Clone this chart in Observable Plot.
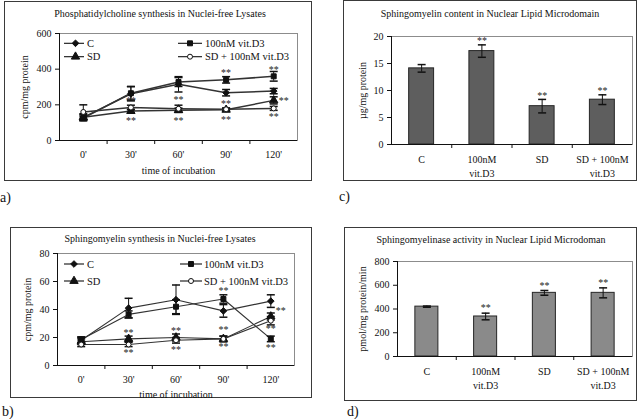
<!DOCTYPE html>
<html><head><meta charset="utf-8">
<script src="https://cdn.jsdelivr.net/npm/d3@7"></script>
<script src="https://cdn.jsdelivr.net/npm/@observablehq/plot@0.6"></script>
<style>
html,body{margin:0;padding:0;background:#fff;}
#root{position:relative;width:640px;height:419px;overflow:hidden;font-family:"Liberation Serif","Times New Roman",serif;color:#111;}
.box{position:absolute;border:1px solid #3a3a3a;box-sizing:border-box;}
.panel{position:absolute;}
.panel svg{display:block;overflow:visible;}
.panel svg, .panel svg text, #overlay text{font-family:"Liberation Serif","Times New Roman",serif !important;}
.ttl{position:absolute;font-size:10px;white-space:nowrap;transform:translate(-50%,-50%);}
.lett{position:absolute;font-size:14px;transform:translate(0,-50%);}
#overlay{position:absolute;left:0;top:0;pointer-events:none;}
</style></head><body><div id="root"></div>
<script>
// ---------- data ----------
const times = ["0'", "30'", "60'", "90'", "120'"];
const groups = ["C", "100nM vit.D3", "SD", "SD + 100nM vit.D3"];

// a) Phosphatidylcholine synthesis (cpm/mg protein)
const pcC        = [130, 262, 315, 268, 277];
const pcCErr     = [20, 40, 43, 18, 15];
const pcVit      = [125, 265, 328, 340, 360];
const pcVitErr   = [12, 38, 25, 18, 27];
const pcSD       = [130, 165, 170, 172, 225];
const pcSDErr    = [15, 10, 12, 8, 20];
const pcSDVit    = [160, 185, 178, 175, 180];
const pcSDVitErr = [40, 13, 20, 8, 11];
const pcStars = [
  {time:"30'", value:235}, {time:"30'", value:123},
  {time:"60'", value:241}, {time:"60'", value:123},
  {time:"90'", value:392}, {time:"90'", value:219}, {time:"90'", value:129},
  {time:"120'", value:409}, {time:"120'", value:143}
];
const pcStarsSide = [{time:"120'", value:234}];

// b) Sphingomyelin synthesis (cpm/mg protein)
const smC        = [18, 41, 47, 39, 46];
const smCErr     = [2, 7, 10.5, 4.5, 4.5];
const smVit      = [18.5, 36.5, 42, 47.5, 19];
const smVitErr   = [2, 2.5, 5, 3, 2];
const smSD       = [17, 19, 20, 19, 35];
const smSDErr    = [2, 2, 2.5, 2, 2.5];
const smSDVit    = [15, 15, 18, 19, 32];
const smSDVitErr = [1.5, 1.5, 2, 2, 3];
const smStars = [
  {time:"30'", value:24.5}, {time:"30'", value:10.7},
  {time:"60'", value:26}, {time:"60'", value:13},
  {time:"90'", value:54.5}, {time:"90'", value:27}, {time:"90'", value:15},
  {time:"120'", value:27.6}, {time:"120'", value:14.3}
];
const smStarsSide = [{time:"120'", value:40.7}];

// c) Sphingomyelin content (µg/mg protein)
const barCats = ["C", "100nM\nvit.D3", "SD", "SD + 100nM\nvit.D3"];
const contentVals = [14.1, 17.3, 7.1, 8.3];
const contentErr  = [0.7, 1.15, 1.25, 0.9];
const contentSig  = [false, true, true, true];

// d) Sphingomyelinase activity (pmol/mg protein/min)
const activityVals = [420, 337, 536, 536];
const activityErr  = [5, 28, 20, 42];
const activitySig  = [false, true, true, true];

// ---------- helpers ----------
const root = document.getElementById("root");
const FONT = "'Liberation Serif', 'Times New Roman', serif";
const cap = {draw(ctx, size){ const w = Math.sqrt(size/Math.PI); ctx.moveTo(-w,0); ctx.lineTo(w,0); }};

function longTable(series, errs){
  const rows = [];
  groups.forEach((g, gi) => series[gi].forEach((v, i) => rows.push({group:g, i, v, e:errs[gi][i]})));
  return rows;
}
function barTable(vals, errs, sig){
  return vals.map((v, i) => ({i, v, e:errs[i], sig:sig[i]}));
}
function addBox(b){
  const d = document.createElement("div");
  d.className = "box";
  Object.assign(d.style, {left:b[0]+"px", top:b[1]+"px", width:(b[2]-b[0])+"px", height:(b[3]-b[1])+"px"});
  root.appendChild(d);
}
function addText(cls, txt, x, y){
  const d = document.createElement("div");
  d.className = cls; d.textContent = txt;
  d.style.left = x+"px"; d.style.top = y+"px";
  root.appendChild(d);
}
function place(svg, b){
  const w = document.createElement("div");
  w.className = "panel";
  w.style.left = b[0]+"px"; w.style.top = b[1]+"px";
  w.appendChild(svg); root.appendChild(w);
}
const baseStyle = {background:"transparent", fontFamily:FONT, fontSize:"10px", color:"#111", overflow:"visible"};
const symNames = ["diamond2", "square", "triangle", "circle"];
const symTypes = [d3.symbolDiamond2, d3.symbolSquare, d3.symbolTriangle, d3.symbolCircle];
const symR = [3.0, 2.8, 3.1, 2.5];

function linePanel(spec){
  const b = spec.box, data = spec.data;
  const dotFor = gi => Plot.dot(data.filter(d => d.group === groups[gi]),
    {x:"i", y:"v", symbol:symNames[gi], r:symR[gi], fill:gi === 3 ? "white" : "#111", stroke:"#111", strokeWidth:1});
  return Plot.plot({
    width:b[2]-b[0], height:b[3]-b[1],
    marginLeft:spec.ml, marginRight:spec.mr, marginTop:spec.mt, marginBottom:spec.mb,
    style:baseStyle,
    x:{domain:[-0.5, times.length-0.5]},
    y:{domain:spec.yDomain},
    marks:[
      Plot.frame({stroke:"#8c8c8c"}),
      Plot.axisY({ticks:spec.yTicks, tickSize:4, tickPadding:4, label:spec.yLabel, labelAnchor:"center", labelArrow:"none", labelOffset:spec.ylo}),
      Plot.axisX({ticks:d3.range(times.length), tickSize:0, tickPadding:10, tickFormat:i => times[i], label:null}),
      Plot.axisX({ticks:d3.range(times.length-1).map(i => i+0.5), tickSize:4, tickFormat:() => "", label:"time of incubation", labelAnchor:"center", labelArrow:"none", labelOffset:spec.xlo}),
      Plot.ruleY([spec.yDomain[0]], {stroke:"#111"}),
      Plot.ruleX([-0.5], {stroke:"#111"}),
      Plot.line(data, {x:"i", y:"v", z:"group", stroke:"#333", strokeWidth:spec.lw}),
      Plot.ruleX(data, {x:"i", y1:d => d.v-d.e, y2:d => d.v+d.e, stroke:"#111"}),
      Plot.dot(data, {x:"i", y:d => d.v+d.e, symbol:cap, r:4, stroke:"#111"}),
      Plot.dot(data, {x:"i", y:d => d.v-d.e, symbol:cap, r:4, stroke:"#111"}),
      dotFor(0), dotFor(1), dotFor(2), dotFor(3),
      Plot.text(spec.stars, {x:d => times.indexOf(d.time), y:"value", text:() => "**", fontSize:10, fill:"#222", dy:2}),
      Plot.text(spec.side, {x:d => times.indexOf(d.time), y:"value", text:() => "**", fontSize:10, fill:"#222", dy:2, dx:10})
    ]
  });
}

function barPanel(spec){
  const b = spec.box, data = spec.data, hw = spec.hw;
  return Plot.plot({
    width:b[2]-b[0], height:b[3]-b[1],
    marginLeft:spec.ml, marginRight:spec.mr, marginTop:spec.mt, marginBottom:spec.mb,
    style:baseStyle,
    x:{domain:[-0.5, barCats.length-0.5]},
    y:{domain:spec.yDomain},
    marks:[
      Plot.frame({stroke:"#8c8c8c"}),
      Plot.rectY(data, {x1:d => d.i-hw, x2:d => d.i+hw, y:"v", fill:spec.fill, stroke:"#262626", strokeWidth:1}),
      Plot.ruleX(data, {x:"i", y1:d => d.v-d.e, y2:d => d.v+d.e, stroke:"#111"}),
      Plot.dot(data, {x:"i", y:d => d.v+d.e, symbol:cap, r:4, stroke:"#111"}),
      Plot.dot(data, {x:"i", y:d => d.v-d.e, symbol:cap, r:4, stroke:"#111"}),
      Plot.axisY({ticks:spec.yTicks, tickSize:4, tickPadding:4, label:spec.yLabel, labelAnchor:"center", labelArrow:"none", labelOffset:spec.ylo}),
      Plot.axisX({ticks:d3.range(barCats.length), tickSize:0, tickPadding:8, tickFormat:i => barCats[i], lineHeight:1.45, label:null}),
      Plot.axisX({ticks:d3.range(barCats.length-1).map(i => i+0.5), tickSize:4, tickFormat:() => "", label:null}),
      Plot.ruleY([0], {stroke:"#111"}),
      Plot.ruleX([-0.5], {stroke:"#111"}),
      Plot.text(data.filter(d => d.sig), {x:"i", y:d => d.v+d.e, text:() => "**", fontSize:10, fill:"#222", dy:spec.sdy})
    ]
  });
}

// ---------- panels ----------
const A = {box:[4,1,312,181], ml:55, mr:15, mt:32, mb:41, yDomain:[0,600], yTicks:[0,200,400,600],
  yLabel:"cpm/mg protein", ylo:39, xlo:33, lw:1.5,
  data:longTable([pcC,pcVit,pcSD,pcSDVit],[pcCErr,pcVitErr,pcSDErr,pcSDVitErr]), stars:pcStars, side:pcStarsSide};
const B = {box:[10,227,312,398], ml:47, mr:18, mt:26, mb:33, yDomain:[0,80], yTicks:[0,20,40,60,80],
  yLabel:"cpm/mg protein", ylo:34, xlo:32, lw:1.1,
  data:longTable([smC,smVit,smSD,smSDVit],[smCErr,smVitErr,smSDErr,smSDVitErr]), stars:smStars, side:smStarsSide};
const C = {box:[343,0,637,181], ml:48, mr:5, mt:36, mb:37, yDomain:[0,20], yTicks:[0,5,10,15,20],
  yLabel:"µg/mg protein", ylo:33, hw:0.207, fill:"#5e5e5e", sdy:-4,
  data:barTable(contentVals, contentErr, contentSig)};
const D = {box:[344,227,637,401], ml:53, mr:5, mt:34, mb:45, yDomain:[0,800], yTicks:[0,200,400,600,800],
  yLabel:"pmol/mg protein/min", ylo:39, hw:0.196, fill:"#8a8a8a", sdy:-5,
  data:barTable(activityVals, activityErr, activitySig)};

[A,B,C,D].forEach(p => addBox(p.box));
place(linePanel(A), A.box);
place(linePanel(B), B.box);
place(barPanel(C), C.box);
place(barPanel(D), D.box);

addText("ttl", "Phosphatidylcholine synthesis in Nuclei-free Lysates", 160, 13);
addText("ttl", "Sphingomyelin synthesis in Nuclei-free Lysates", 160, 238);
addText("ttl", "Sphingomyelin content in Nuclear Lipid Microdomain", 490, 13);
addText("ttl", "Sphingomyelinase activity in Nuclear Lipid Microdoman", 491, 239);
addText("lett", "a)", 0, 198);
addText("lett", "c)", 339, 197);
addText("lett", "b)", 2, 412);
addText("lett", "d)", 347, 412);

// ---------- legends ----------
const ov = d3.select(root).append("svg").attr("id","overlay").attr("width",640).attr("height",419);
function legend(cols, rows){
  groups.forEach((g, gi) => {
    const c = cols[gi % 2 === 0 ? 0 : 1];
    const y = rows[gi < 2 ? 0 : 1];
    ov.append("line").attr("x1",c[0]).attr("x2",c[1]).attr("y1",y).attr("y2",y).attr("stroke","#111").attr("stroke-width",1.1);
    ov.append("path").attr("d", d3.symbol(symTypes[gi], Math.PI*symR[gi]*symR[gi])())
      .attr("transform",`translate(${c[2]},${y})`)
      .attr("fill", gi === 3 ? "white" : "#111").attr("stroke","#111").attr("stroke-width",1);
    ov.append("text").attr("x",c[3]).attr("y",y).attr("dy","0.34em").attr("font-family",FONT).attr("font-size",10.5).attr("fill","#111").text(g);
  });
}
legend([[64,84,75.5,87],[178,202,190,205]], [43.3,56.7]);
legend([[64,84,74,87],[180,202,191,204]], [264,281]);
</script></body></html>
